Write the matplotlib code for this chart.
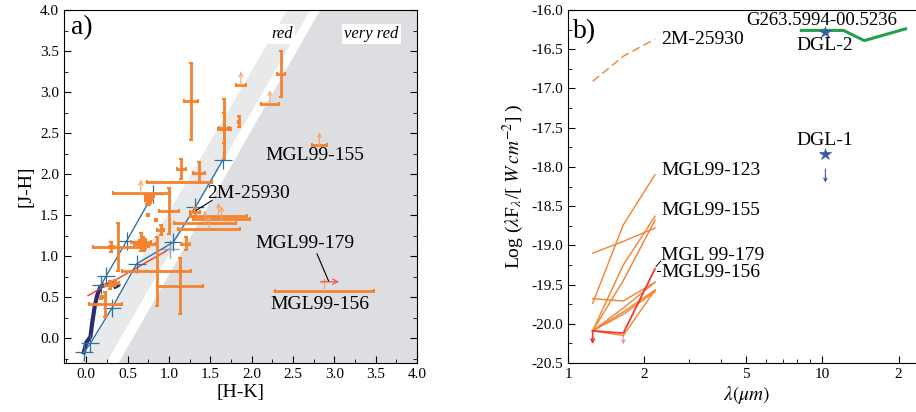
import numpy as np
import matplotlib.pyplot as plt

plt.rcParams['font.family'] = ['Liberation Serif', 'DejaVu Serif']
plt.rcParams['mathtext.fontset'] = 'stix'
plt.rcParams['axes.unicode_minus'] = False

# ---------------- panel a data ----------------
# sources with two-sided errors
hk = [1.27, 1.67, 1.67, 1.85, 2.36, 1.15, 1.36, 1.00, 0.90, 0.38, 0.30, 0.66, 0.70, 0.68,
      1.20, 0.85, 1.135, 0.23, 0.29, 0.35, 1.32, 1.125, 0.71,
      0.74, 0.77, 0.76, 0.79, 0.73, 0.745, 0.84, 0.18]
jh = [2.89, 2.55, 2.56, 2.64, 3.22, 2.06, 2.02, 1.55, 1.32, 1.11, 1.11, 1.17, 1.13, 1.19,
      1.155, 0.82, 0.634, 0.415, 0.65, 0.68, 1.54, 1.91, 1.15,
      1.72, 1.70, 1.66, 1.73, 1.68, 1.50, 1.44, 0.50]
hk_err = [0.085, 0.083, 0.06, 0.01, 0.048, 0.055, 0.07, 0.125, 0.04, 0.30, 0.03, 0.12, 0.06, 0.04,
          0.06, 0.42, 0.28, 0.20, 0.06, 0.05, 0.06, 0.39, 0.13,
          0.03, 0.03, 0.02, 0.03, 0.02, 0.01, 0.01, 0.02]
jh_err = [0.47, 0.37, 0.18, 0.07, 0.28, 0.12, 0.13, 0.28, 0.06, 0.29, 0.06, 0.11, 0.06, 0.05,
          0.08, 0.42, 0.34, 0.15, 0.05, 0.03, 0.05, 0.0, 0.06,
          0.04, 0.05, 0.03, 0.03, 0.04, 0.01, 0.01, 0.02]

# sources with J-H lower limits
hk_lim = [1.87, 2.22, 2.82, 0.66, 1.60, 1.635, 1.435, 1.485, 2.88]
jh_lim = [3.09, 2.86, 2.35, 1.77, 1.49, 1.45, 1.40, 1.33, 0.577]
hk_lim_err = [0.063, 0.11, 0.094, 0.34, 0.34, 0.35, 0.38, 0.37, 0.60]

# MGL99-179 : H-K lower limit
hk_179 = 2.83
jh_179 = 0.69

# loci
ms_hk = [-0.03, 0.0, 0.05, 0.07, 0.10, 0.13, 0.17, 0.23, 0.33, 0.39, 0.35]
ms_jh = [-0.17, -0.05, 0.02, 0.18, 0.38, 0.52, 0.63, 0.65, 0.66, 0.65, 0.63]
redv1_hk = [-0.03, 0.05, 0.31, 0.61, 1.05, 1.32, 1.65]
redv1_jh = [-0.17, -0.06, 0.37, 0.91, 1.17, 1.60, 2.17]
redv2_hk = [0.15, 0.18, 0.24, 0.49, 0.81]
redv2_jh = [0.60, 0.65, 0.76, 1.19, 1.76]
ctts_hk = [0.02, 1.01]
ctts_jh = [0.52, 1.09]

# shaded regions (H-K at J-H = -0.3 and 4.0)
red_left = [-0.07, 2.43]
red_right = [0.24, 2.71]
vred_left = [0.39, 2.83]

# ---------------- panel b data ----------------
nir_wl = [1.25, 1.65, 2.2]
sed_2m = [-16.91, -16.59, -16.37]
sed_123 = [-19.74, -18.74, -18.10]
sed_others = [
    [-19.10, -18.95, -18.78],
    [-19.68, -19.71, -19.47],
    [-20.09, -19.25, -18.63],
    [-20.09, -19.45, -18.68],
    [-20.09, -19.80, -19.47],
    [-20.09, -19.85, -19.57],
    [-20.09, -19.88, -19.59],
    [-20.09, -20.15, -19.57],
]
sed_179 = [-20.09, -20.12, -19.30]
msx_wl = [8.28, 12.13, 14.65, 21.3]
msx_g263 = [-16.26, -16.26, -16.39, -16.24]
dgl_wl = 10.3
dgl2 = -16.28
dgl1 = -17.83

orange = '#f5822e'
lorange = '#f7a266'
blue = '#2f72a0'
lblue = '#86aac4'
navy = '#2c2a78'
red = '#ee3a32'

fig = plt.figure(figsize=(9.16, 4.12), dpi=100)
ax1 = fig.add_axes([64 / 916, 49 / 412, 353 / 916, 353 / 412])
ax2 = fig.add_axes([568 / 916, 49 / 412, 357 / 916, 353 / 412])

# ---- panel a ----
ax1.set_xlim(-0.27, 4.0)
ax1.set_ylim(-0.3, 4.0)
yb, yt = -0.3, 4.0
ax1.fill([red_left[0], red_left[1], red_right[1], red_right[0]], [yb, yt, yt, yb],
         color='#e8e9eb', lw=0, zorder=0)
ax1.fill([vred_left[0], vred_left[1], 4.0, 4.0], [yb, yt, yt, yb],
         color='#dddee1', lw=0, zorder=0)

ax1.plot(ms_hk, ms_jh, color=navy, lw=3, zorder=3)
ax1.plot(ctts_hk, ctts_jh, color=red, lw=1, zorder=3)
ax1.plot(ctts_hk[-1:], ctts_jh[-1:], '+', color=lblue, ms=13, mew=1, zorder=4)
ax1.plot(redv1_hk, redv1_jh, color=blue, lw=1, marker='+', ms=13, mew=0.9, zorder=4)
ax1.plot(redv2_hk[1:], redv2_jh[1:], color=blue, lw=0, marker='+', ms=13, mew=0.9, zorder=4)
ax1.plot(redv2_hk, redv2_jh, color=blue, lw=1, zorder=4)

ax1.errorbar(hk, jh, xerr=hk_err, yerr=jh_err, fmt='none', ecolor=orange,
             elinewidth=2, capsize=1.5, capthick=1.5, zorder=5)
ax1.errorbar(hk_lim, jh_lim, xerr=hk_lim_err, fmt='none', ecolor=orange,
             elinewidth=2, capsize=1.5, capthick=1.5, zorder=5)
for x, y in zip(hk_lim, jh_lim):
    ax1.annotate('', xy=(x, y + 0.16), xytext=(x, y),
                 arrowprops=dict(arrowstyle='->', color=lorange, lw=0.8,
                                 shrinkA=0, shrinkB=0, mutation_scale=7), zorder=6)
ax1.annotate('', xy=(hk_179 + 0.23, jh_179), xytext=(hk_179, jh_179),
             arrowprops=dict(arrowstyle='->', color='#f06060', lw=1,
                             shrinkA=0, shrinkB=0, mutation_scale=9), zorder=6)

ax1.text(2.37, 3.71, 'red', style='italic', fontsize=12, ha='center', va='center',
         bbox=dict(facecolor='white', edgecolor='none', pad=1.5))
ax1.text(3.45, 3.71, 'very red', style='italic', fontsize=12, ha='center', va='center',
         bbox=dict(facecolor='white', edgecolor='none', pad=1.5))
ax1.text(-0.18, 3.78, 'a)', fontsize=20, ha='left', va='center')
ax1.text(2.17, 2.23, 'MGL99-155', fontsize=14, ha='left', va='center')
ax1.text(2.05, 1.16, 'MGL99-179', fontsize=14, ha='left', va='center')
ax1.text(2.23, 0.41, 'MGL99-156', fontsize=14, ha='left', va='center')
ax1.text(1.46, 1.77, '2M-25930', fontsize=14, ha='left', va='center')
ax1.plot([1.52, 1.33], [1.68, 1.56], color='black', lw=0.8, zorder=6)
ax1.plot([2.79, 2.93], [1.03, 0.70], color='black', lw=0.8, zorder=6)

ax1.set_xticks(np.arange(0, 4.01, 0.5))
ax1.set_yticks(np.arange(0, 4.01, 0.5))
ax1.set_xticks(np.arange(-0.25, 4.01, 0.25), minor=True)
ax1.set_yticks(np.arange(-0.25, 4.01, 0.25), minor=True)
ax1.tick_params(which='both', direction='in', right=True, labelsize=11)
ax1.tick_params(which='major', length=5)
ax1.tick_params(which='minor', length=3)
ax1.xaxis.set_major_formatter(plt.FormatStrFormatter('%.1f'))
ax1.yaxis.set_major_formatter(plt.FormatStrFormatter('%.1f'))
ax1.set_xlabel('[H-K]', fontsize=14, labelpad=2)
ax1.set_ylabel('[J-H]', fontsize=14, labelpad=4)

# ---- panel b ----
ax2.set_xscale('log')
ax2.set_xlim(1, 25.4)
ax2.set_ylim(-20.5, -16.0)

ax2.plot(nir_wl, sed_2m, color=orange, lw=1, dashes=(6, 3))
for s in sed_others:
    ax2.plot(nir_wl, s, color=orange, lw=1)
ax2.plot(nir_wl, sed_123, color=orange, lw=1)
ax2.plot(nir_wl, sed_179, color=red, lw=1.3)
ax2.annotate('', xy=(nir_wl[0], -20.26), xytext=(nir_wl[0], sed_179[0]),
             arrowprops=dict(arrowstyle='->', color=red, lw=1.2, shrinkA=0, shrinkB=0,
                             mutation_scale=6))
ax2.annotate('', xy=(nir_wl[1], -20.26), xytext=(nir_wl[1], sed_179[1]),
             arrowprops=dict(arrowstyle='->', color='#f08080', lw=0.7, shrinkA=0, shrinkB=0,
                             mutation_scale=6))
ax2.plot(msx_wl, msx_g263, color='#22a04a', lw=2.2)
ax2.plot([dgl_wl, dgl_wl], [dgl2, dgl1], '*', color='#3a58a8', ms=9, mew=0.5)
ax2.annotate('', xy=(dgl_wl, -18.2), xytext=(dgl_wl, -18.03),
             arrowprops=dict(arrowstyle='->', color='#3a58a8', lw=0.8, shrinkA=0, shrinkB=0,
                             mutation_scale=6))

ax2.text(2.33, -16.38, '2M-25930', fontsize=14, ha='left', va='center')
ax2.text(10.0, -16.14, 'G263.5994-00.5236', fontsize=13.5, ha='center', va='center')
ax2.text(10.2, -16.45, 'DGL-2', fontsize=14, ha='center', va='center')
ax2.text(10.2, -17.66, 'DGL-1', fontsize=14, ha='center', va='center')
ax2.text(2.33, -18.04, 'MGL99-123', fontsize=14, ha='left', va='center')
ax2.text(2.33, -18.55, 'MGL99-155', fontsize=14, ha='left', va='center')
ax2.text(2.33, -19.13, 'MGL 99-179', fontsize=14, ha='left', va='center')
ax2.text(2.33, -19.35, 'MGL99-156', fontsize=14, ha='left', va='center')
ax2.plot([2.22, 2.32], [-19.27, -19.2], color='black', lw=0.7)
ax2.plot([2.24, 2.31], [-19.33, -19.33], color='black', lw=0.7)
ax2.text(1.05, -16.28, 'b)', fontsize=20, ha='left', va='center')

ax2.set_yticks(np.arange(-20.5, -15.99, 0.5))
ax2.set_yticks(np.arange(-20.5, -15.99, 0.25), minor=True)
ax2.yaxis.set_major_formatter(plt.FormatStrFormatter('%.1f'))
ax2.set_xticks([1, 2, 5, 10, 20])
ax2.set_xticklabels(['1', '2', '5', '10', '2'])
ax2.tick_params(which='both', direction='in', labelsize=11)
ax2.tick_params(which='major', length=5)
ax2.tick_params(which='minor', length=3)
ax2.tick_params(axis='x', which='minor', labelbottom=False)
ax2.set_xlabel(r'$\lambda(\mu m)$', fontsize=14, labelpad=2)
ax2.set_ylabel(r'Log ($\lambda$F$_\lambda$/[ $W\,cm^{-2}$] )', fontsize=14, labelpad=4)

fig.savefig('out.png', dpi=100)
